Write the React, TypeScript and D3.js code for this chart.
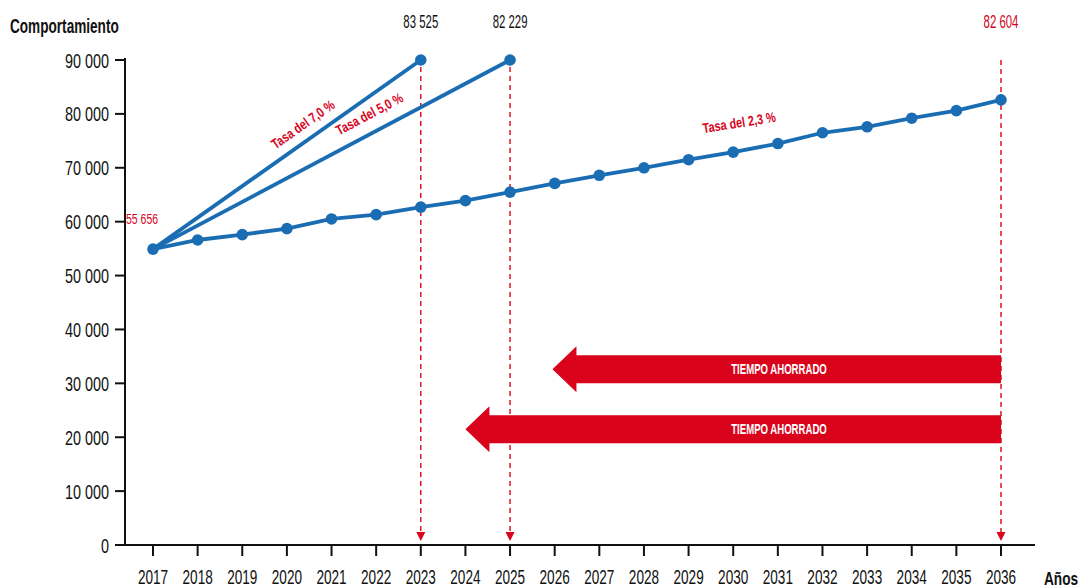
import React from "react";
import * as d3 from "d3";

const years = [2017, 2018, 2019, 2020, 2021, 2022, 2023, 2024, 2025, 2026, 2027, 2028, 2029, 2030, 2031, 2032, 2033, 2034, 2035, 2036];
const base23 = [54900, 56600, 57600, 58700, 60500, 61300, 62700, 63900, 65500, 67100, 68600, 70000, 71500, 72900, 74500, 76500, 77600, 79200, 80600, 82600];
const line70 = [{ year: 2017, value: 54900 }, { year: 2023, value: 90000 }];
const line50 = [{ year: 2017, value: 54900 }, { year: 2025, value: 90000 }];
const yTicks = [0, 10000, 20000, 30000, 40000, 50000, 60000, 70000, 80000, 90000];
const topLabels = [
  { year: 2023, text: "83 525", color: "#111" },
  { year: 2025, text: "82 229", color: "#111" },
  { year: 2036, text: "82 604", color: "#d0021b" },
];
const dashedYears = [2023, 2025, 2036];
const arrows = [
  { from: 2036, to: 2025.95, value: 32600, label: "TIEMPO AHORRADO" },
  { from: 2036, to: 2024.0, value: 21500, label: "TIEMPO AHORRADO" },
];
const rateLabels = [
  { text: "Tasa del 7,0 %", x: 2020.42, y: 77300, angle: -35 },
  { text: "Tasa del 5,0 %", x: 2021.9, y: 79200, angle: -28 },
  { text: "Tasa del 2,3 %", x: 2030.15, y: 77500, angle: -9 },
];
const startLabel = { text: "55 656", year: 2017, value: 60500 };

const W = 1081, H = 588;
const BLUE = "#1b6db3";
const RED = "#d9031c";
const FONT = "'Liberation Sans', Arial, sans-serif";

type TProps = { x: number; y: number; sx: number; size: number; bold?: boolean; fill?: string; anchor?: string; rotate?: number; children: React.ReactNode };
function T({ x, y, sx, size, bold, fill = "#111", anchor = "start", rotate = 0, children }: TProps) {
  return (
    <text
      transform={`translate(${x},${y}) rotate(${rotate}) scale(${sx},1)`}
      textAnchor={anchor}
      fontFamily={FONT}
      fontWeight={bold ? "bold" : "normal"}
      fontSize={size}
      fill={fill}
    >
      {children}
    </text>
  );
}

export default function App() {
  const x = d3.scaleLinear().domain([2017, 2036]).range([153, 1001]);
  const y = d3.scaleLinear().domain([0, 90000]).range([545, 60]);
  const fmt = (v: number) => (v === 0 ? "0" : d3.format(",")(v).replace(/,/g, " "));
  const lineGen = d3.line<{ year: number; value: number }>().x(d => x(d.year)).y(d => y(d.value));
  const baseData = years.map((yr, i) => ({ year: yr, value: base23[i] }));

  const arrowPath = (a: typeof arrows[0]) => {
    const cy = y(a.value);
    const xr = x(a.from), xt = x(a.to);
    const hb = xt + 24;
    const bh = 14, hh = 23;
    return `M${xr},${cy - bh} L${hb},${cy - bh} L${hb},${cy - hh} L${xt},${cy} L${hb},${cy + hh} L${hb},${cy + bh} L${xr},${cy + bh} Z`;
  };

  return (
    <div style={{ position: "absolute", left: 0, top: 0 }}>
      <svg width={W} height={H} style={{ display: "block", background: "#fff" }}>
        {/* axis titles */}
        <T x={10} y={33} sx={0.68} size={20} bold>Comportamiento</T>
        <T x={1044} y={585} sx={0.76} size={18} bold>Años</T>

        {/* arrows */}
        {arrows.map((a, i) => (
          <g key={"ar" + i}>
            <path d={arrowPath(a)} fill={RED} />
            <T x={779} y={y(a.value) + 5} sx={0.64} size={15} bold fill="#fff" anchor="middle">{a.label}</T>
          </g>
        ))}

        {/* dashed verticals with arrowheads */}
        {dashedYears.map(yr => (
          <g key={"d" + yr}>
            <line x1={x(yr)} x2={x(yr)} y1={yr === 2036 ? y(90000) : y(90000) + 7} y2={y(0) - 12} stroke={RED} strokeWidth={1.4} strokeDasharray="5,4" />
            <path d={`M${x(yr) - 4.5},${y(0) - 13} L${x(yr) + 4.5},${y(0) - 13} L${x(yr)},${y(0) - 4} Z`} fill={RED} />
          </g>
        ))}

        {/* y axis */}
        <line x1={125} x2={125} y1={y(90000) - 2} y2={y(0)} stroke="#111" strokeWidth={2} />
        {yTicks.map(t => (
          <g key={"yt" + t}>
            <line x1={115} x2={125} y1={y(t)} y2={y(t)} stroke="#111" strokeWidth={2} />
            <T x={109} y={y(t) + 7.5} sx={0.72} size={20} anchor="end">{fmt(t)}</T>
          </g>
        ))}

        {/* x axis */}
        <line x1={117} x2={1035} y1={y(0)} y2={y(0)} stroke="#111" strokeWidth={2} />
        {years.map(yr => (
          <g key={"xt" + yr}>
            <line x1={x(yr)} x2={x(yr)} y1={y(0)} y2={y(0) + 11} stroke="#111" strokeWidth={2} />
            <T x={x(yr)} y={584} sx={0.68} size={20} anchor="middle">{yr}</T>
          </g>
        ))}

        {/* lines */}
        <path d={lineGen(line70) || ""} fill="none" stroke={BLUE} strokeWidth={3.8} />
        <path d={lineGen(line50) || ""} fill="none" stroke={BLUE} strokeWidth={3.8} />
        <path d={lineGen(baseData) || ""} fill="none" stroke={BLUE} strokeWidth={3.8} />
        {baseData.map(d => (
          <circle key={"c" + d.year} cx={x(d.year)} cy={y(d.value)} r={5.8} fill={BLUE} />
        ))}
        <circle cx={x(line70[1].year)} cy={y(line70[1].value)} r={5.8} fill={BLUE} />
        <circle cx={x(line50[1].year)} cy={y(line50[1].value)} r={5.8} fill={BLUE} />

        {/* rate labels */}
        {rateLabels.map((r, i) => (
          <T key={"rl" + i} x={x(r.x)} y={y(r.y)} sx={0.78} size={14} bold fill={RED} anchor="middle" rotate={r.angle}>{r.text}</T>
        ))}

        {/* top value labels */}
        {topLabels.map(l => (
          <T key={"tl" + l.year} x={x(l.year)} y={28} sx={0.6} size={19} fill={l.color} anchor="middle">{l.text}</T>
        ))}
        <T x={126} y={y(startLabel.value) + 5} sx={0.75} size={14} fill={RED}>{startLabel.text}</T>
      </svg>
    </div>
  );
}
